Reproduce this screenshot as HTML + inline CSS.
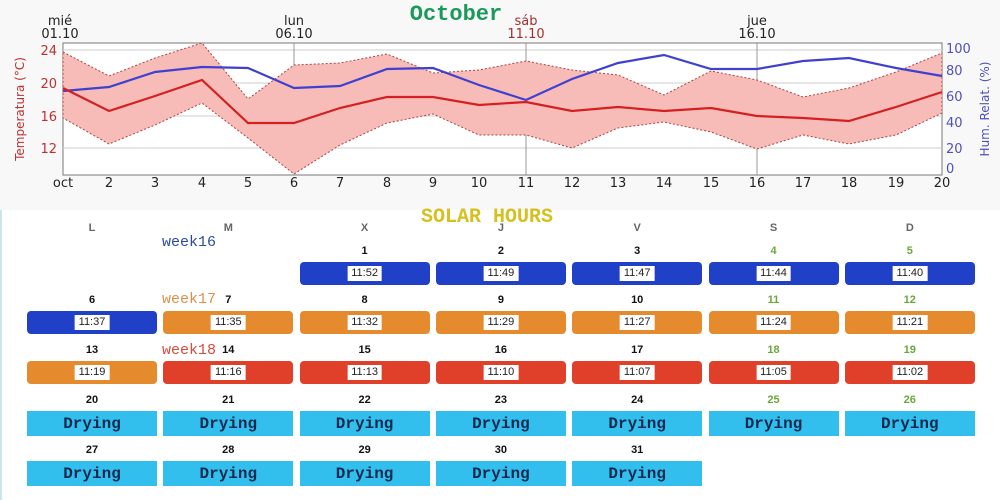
<!DOCTYPE html>
<html><head><meta charset="utf-8"><style>
body{margin:0;width:1000px;height:500px;overflow:hidden;background:#fff;font-family:"Liberation Sans",sans-serif;position:relative}
.top{position:absolute;left:0;top:0;width:1000px;height:210px;background:#f8f8f8}
.cal{position:absolute;left:0;top:210px;width:1000px;height:290px;background:#fff;border-left:2px solid #cfe3ea;box-sizing:border-box}
.a{position:absolute;text-align:center}
.dn{position:absolute;width:130px;text-align:center;font-size:11px;font-weight:bold;color:#111}
.g{color:#6aa83a}
.bar{position:absolute;width:130px;height:23px;border-radius:4px}
.bar span{position:absolute;left:50%;top:4px;transform:translateX(-50%);background:#fff;font-size:11px;padding:1px 4px;color:#222;line-height:13px}
.dr{position:absolute;width:130px;height:25px;background:#33bfee;text-align:center;font:bold 16px "Liberation Mono",monospace;color:#0e2a4e;line-height:26px}
.wk{position:absolute;font:15px "Liberation Mono",monospace}
</style></head><body>
<div class="top"></div>
<svg style="position:absolute;left:0;top:0" width="1000" height="210" font-family="DejaVu Sans, Liberation Sans, sans-serif">
<rect x="63" y="43" width="879" height="132" fill="#fff" stroke="#777" stroke-width="1"/>
<g stroke="#ccc" stroke-width="1"><line x1="63" x2="942" y1="50" y2="50"/><line x1="63" x2="942" y1="83" y2="83"/><line x1="63" x2="942" y1="116" y2="116"/><line x1="63" x2="942" y1="148" y2="148"/></g>
<g stroke="#999" stroke-width="1"><line x1="294" x2="294" y1="43" y2="175"/><line x1="526" x2="526" y1="43" y2="175"/><line x1="757" x2="757" y1="43" y2="175"/></g>
<polygon fill="#f8bcb8" stroke="#a44" stroke-width="1" stroke-dasharray="2,2" points="63,52 109,76 155,58 202,43 248,99 294,65 340,63 387,54 433,73 479,70 526,61 572,70 618,75 664,95 711,71 757,80 803,97 849,88 896,72 942,53 942,113 896,135 849,144 803,135 757,149 711,132 664,122 618,128 572,148 526,135 479,135 433,114 387,123 340,145 294,174 248,138 202,103 155,125 109,144 63,118"/>
<polyline fill="none" stroke="#4040d0" stroke-width="2.2" points="63,91 109,87 155,72 202,67 248,68 294,88 340,86 387,69 433,68 479,85 526,100 572,79 618,63 664,55 711,69 757,69 803,61 849,58 896,68 942,76"/>
<polyline fill="none" stroke="#d42020" stroke-width="2.2" points="63,88 109,111 155,96 202,80 248,123 294,123 340,108 387,97 433,97 479,105 526,102 572,111 618,107 664,111 711,108 757,116 803,118 849,121 896,107 942,92"/>
<g font-size="13" fill="#c03030" text-anchor="end"><text x="57" y="55">24</text><text x="57" y="88">20</text><text x="57" y="121">16</text><text x="57" y="153">12</text></g>
<text transform="translate(24,109) rotate(-90)" font-size="12" fill="#c03030" text-anchor="middle">Temperatura (°C)</text>
<g font-size="13" fill="#5050c0"><text x="946" y="53">100</text><text x="946" y="75">80</text><text x="946" y="101">60</text><text x="946" y="127">40</text><text x="946" y="153">20</text><text x="946" y="173">0</text></g>
<text transform="translate(989,109) rotate(-90)" font-size="12" fill="#5050c0" text-anchor="middle">Hum. Relat. (%)</text>
<g font-size="13" fill="#222" text-anchor="middle"><text x="63" y="187">oct</text><text x="109" y="187">2</text><text x="155" y="187">3</text><text x="202" y="187">4</text><text x="248" y="187">5</text><text x="294" y="187">6</text><text x="340" y="187">7</text><text x="387" y="187">8</text><text x="433" y="187">9</text><text x="479" y="187">10</text><text x="526" y="187">11</text><text x="572" y="187">12</text><text x="618" y="187">13</text><text x="664" y="187">14</text><text x="711" y="187">15</text><text x="757" y="187">16</text><text x="803" y="187">17</text><text x="849" y="187">18</text><text x="896" y="187">19</text><text x="942" y="187">20</text></g>
<g font-size="13" fill="#222" text-anchor="middle"><text x="60" y="25">mié</text><text x="60" y="38">01.10</text><text x="294" y="25">lun</text><text x="294" y="38">06.10</text><text x="757" y="25">jue</text><text x="757" y="38">16.10</text></g>
<g font-size="13" fill="#a03030" text-anchor="middle"><text x="526" y="25">sáb</text><text x="526" y="38">11.10</text></g>
<text x="456" y="20" font-family="Liberation Mono, monospace" font-weight="bold" font-size="22" fill="#1a9a5a" text-anchor="middle">October</text>
</svg>
<div class="cal"></div>
<div class="a" style="left:0;width:1000px;top:206px;font:bold 20px 'Liberation Mono',monospace;color:#d4c020;left:-13px">SOLAR HOURS</div>
<div id="c"></div>
<script>
var L=27,P=136.3,h='';
['L','M','X','J','V','S','D'].forEach(function(d,i){h+='<div class="dn" style="left:'+(L+i*P)+'px;top:222px;color:#666">'+d+'</div>';});
var rows=[[251,262],[300,311],[350,361],[400,411],[450,461]];
var times={1:'11:52',2:'11:49',3:'11:47',4:'11:44',5:'11:40',6:'11:37',7:'11:35',8:'11:32',9:'11:29',10:'11:27',11:'11:24',12:'11:21',13:'11:19',14:'11:16',15:'11:13',16:'11:10',17:'11:07',18:'11:05',19:'11:02'};
for(var d=1;d<=31;d++){var idx=d+1,r=Math.floor(idx/7),c=idx%7,x=L+c*P;
h+='<div class="dn'+(c>=5?' g':'')+'" style="left:'+x+'px;top:'+(rows[r][0]-6)+'px">'+d+'</div>';
if(d<=19){var col=d<=6?'#2040c8':(d<=13?'#e68a2e':'#e0402a');h+='<div class="bar" style="left:'+x+'px;top:'+rows[r][1]+'px;background:'+col+'"><span>'+times[d]+'</span></div>';}
else h+='<div class="dr" style="left:'+x+'px;top:'+rows[r][1]+'px">Drying</div>';}
h+='<div class="wk" style="left:162px;top:234px;color:#2a4aa8">week16</div>';
h+='<div class="wk" style="left:162px;top:291px;color:#e0904a">week17</div>';
h+='<div class="wk" style="left:162px;top:342px;color:#d84a3a">week18</div>';
document.getElementById('c').innerHTML=h;
</script>
</body></html>
